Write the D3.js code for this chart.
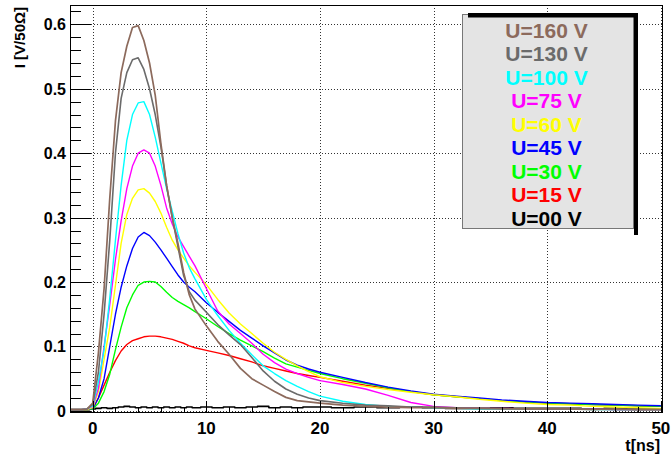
<!DOCTYPE html>
<html>
<head>
<meta charset="utf-8">
<script src="https://cdn.jsdelivr.net/npm/d3@7"></script>
<style>
  html, body { margin: 0; padding: 0; background: #fff; }
  svg text { font-family: "Liberation Sans", Arial, Helvetica, sans-serif; font-weight: bold; }
</style>
</head>
<body>
<svg id="chart" width="671" height="456"></svg>
<script>
// Sample times in ns
const times = [-2, -1, -0.5, 0, 0.5, 1, 1.5, 2, 2.5, 3, 3.5, 4, 4.5, 5, 5.5, 6, 6.5, 7, 7.5, 8, 8.5, 9,
  10, 11, 12, 13, 14, 15, 16, 17, 18, 19, 20, 22, 24, 26, 28, 30, 32, 34, 36, 38, 40, 42, 44, 46, 48, 50];

// Current pulses in V/50Ohm, one array per bias voltage
const u000 = [0.002, 0.002, 0.002, 0.003, 0.004, 0.005, 0.004, 0.005, 0.006, 0.007, 0.006, 0.005, 0.006, 0.005, 0.006, 0.005, 0.006, 0.005, 0.006, 0.005, 0.006, 0.005,
  0.006, 0.005, 0.006, 0.005, 0.006, 0.007, 0.005, 0.006, 0.005, 0.006, 0.006, 0.005, 0.006, 0.005, 0.006, 0.005, 0.004, 0.004, 0.005, 0.004, 0.004, 0.004, 0.003, 0.004, 0.003, 0.003];
const u015 = [0.002, 0.002, 0.002, 0.003, 0.02, 0.04, 0.06, 0.078, 0.093, 0.103, 0.109, 0.112, 0.115, 0.116, 0.116, 0.115, 0.113, 0.111, 0.108, 0.105, 0.101, 0.098,
  0.094, 0.09, 0.086, 0.081, 0.076, 0.07, 0.066, 0.062, 0.058, 0.055, 0.052, 0.046, 0.04, 0.035, 0.03, 0.025, 0.022, 0.019, 0.016, 0.014, 0.012, 0.011, 0.01, 0.009, 0.008, 0.007];
const u030 = [0.002, 0.002, 0.002, 0.003, 0.012, 0.03, 0.057, 0.095, 0.13, 0.16, 0.18, 0.195, 0.2, 0.201, 0.2, 0.193, 0.184, 0.176, 0.17, 0.165, 0.16, 0.154,
  0.143, 0.131, 0.12, 0.11, 0.101, 0.092, 0.082, 0.073, 0.068, 0.063, 0.058, 0.05, 0.043, 0.036, 0.03, 0.025, 0.022, 0.019, 0.016, 0.014, 0.012, 0.011, 0.01, 0.009, 0.008, 0.007];
const u045 = [0.002, 0.002, 0.002, 0.004, 0.02, 0.05, 0.1, 0.15, 0.192, 0.225, 0.252, 0.27, 0.277, 0.272, 0.262, 0.25, 0.237, 0.224, 0.211, 0.2, 0.192, 0.185,
  0.168, 0.153, 0.139, 0.125, 0.113, 0.101, 0.09, 0.079, 0.071, 0.065, 0.06, 0.052, 0.044, 0.037, 0.031, 0.026, 0.023, 0.02, 0.017, 0.015, 0.013, 0.012, 0.011, 0.01, 0.009, 0.008];
const u060 = [0.002, 0.002, 0.002, 0.005, 0.03, 0.08, 0.13, 0.195, 0.26, 0.305, 0.33, 0.343, 0.345, 0.338, 0.325, 0.307, 0.285, 0.265, 0.25, 0.237, 0.225, 0.215,
  0.196, 0.173, 0.152, 0.135, 0.12, 0.105, 0.091, 0.08, 0.07, 0.061, 0.053, 0.044, 0.038, 0.033, 0.029, 0.025, 0.022, 0.018, 0.015, 0.012, 0.01, 0.009, 0.007, 0.006, 0.005, 0.004];
const u075 = [0.002, 0.002, 0.003, 0.007, 0.035, 0.1, 0.165, 0.235, 0.295, 0.345, 0.38, 0.4, 0.405, 0.4, 0.38, 0.35, 0.315, 0.29, 0.27, 0.255, 0.24, 0.225,
  0.19, 0.155, 0.135, 0.12, 0.105, 0.088, 0.075, 0.065, 0.058, 0.052, 0.047, 0.041, 0.034, 0.024, 0.013, 0.007, 0.005, 0.004, 0.004, 0.003, 0.003, 0.003, 0.003, 0.002, 0.002, 0.002];
const u100 = [0.002, 0.002, 0.003, 0.008, 0.045, 0.095, 0.175, 0.265, 0.35, 0.42, 0.46, 0.478, 0.48, 0.46, 0.425, 0.385, 0.345, 0.31, 0.275, 0.245, 0.222, 0.205,
  0.173, 0.148, 0.125, 0.105, 0.087, 0.07, 0.058, 0.047, 0.038, 0.03, 0.023, 0.015, 0.01, 0.007, 0.006, 0.005, 0.004, 0.003, 0.003, 0.003, 0.003, 0.003, 0.002, 0.002, 0.002, 0.002];
const u130 = [0.002, 0.002, 0.003, 0.01, 0.06, 0.15, 0.265, 0.4, 0.485, 0.525, 0.545, 0.548, 0.53, 0.5, 0.46, 0.41, 0.35, 0.3, 0.255, 0.21, 0.185, 0.172,
  0.153, 0.134, 0.118, 0.103, 0.083, 0.062, 0.046, 0.034, 0.026, 0.02, 0.016, 0.012, 0.009, 0.008, 0.006, 0.006, 0.005, 0.004, 0.004, 0.003, 0.003, 0.003, 0.003, 0.002, 0.002, 0.002];
const u160 = [0.002, 0.002, 0.003, 0.012, 0.09, 0.19, 0.33, 0.45, 0.525, 0.566, 0.595, 0.598, 0.575, 0.54, 0.49, 0.415, 0.35, 0.3, 0.26, 0.215, 0.18, 0.158,
  0.132, 0.108, 0.088, 0.066, 0.05, 0.04, 0.03, 0.021, 0.016, 0.014, 0.012, 0.009, 0.007, 0.006, 0.005, 0.005, 0.004, 0.004, 0.003, 0.003, 0.003, 0.003, 0.002, 0.003, 0.002, 0.002];

// Legend entries, top to bottom
const legendLabels = ["U=160 V", "U=130 V", "U=100 V", "U=75 V", "U=60 V", "U=45 V", "U=30 V", "U=15 V", "U=00 V"];
const legendColors = ["#8c6a5c", "#6b6b6b", "#00ffff", "#ff00ff", "#ffff00", "#0000ff", "#00ff00", "#ff0000", "#000000"];

// Axis ticks
const xTicks = [0, 10, 20, 30, 40, 50];
const yTicks = [0, 0.1, 0.2, 0.3, 0.4, 0.5, 0.6];

const series = [
  { values: u000, color: "#000000", width: 1.6, curve: d3.curveStep },
  { values: u015, color: "#ff0000", width: 1.4, curve: d3.curveLinear },
  { values: u030, color: "#00ff00", width: 1.4, curve: d3.curveLinear },
  { values: u045, color: "#0000ff", width: 1.4, curve: d3.curveLinear },
  { values: u060, color: "#ffff00", width: 1.4, curve: d3.curveLinear },
  { values: u075, color: "#ff00ff", width: 1.4, curve: d3.curveLinear },
  { values: u100, color: "#00ffff", width: 1.4, curve: d3.curveLinear },
  { values: u130, color: "#6b6b6b", width: 1.6, curve: d3.curveLinear },
  { values: u160, color: "#8c6a5c", width: 1.7, curve: d3.curveLinear }
];

const svg = d3.select("#chart");
const frame = { left: 70, right: 662, top: 5, bottom: 412 };

const x = d3.scaleLinear().domain([-2, 50.1]).range([frame.left, frame.right]);
const y = d3.scaleLinear().domain([-0.0017, 0.63]).range([frame.bottom, frame.top]);

svg.append("rect").attr("width", 671).attr("height", 456).attr("fill", "#fff");

// Dotted grid at the major ticks
const grid = svg.append("g").attr("stroke", "#333").attr("stroke-width", 1)
  .attr("stroke-dasharray", "1,2").attr("shape-rendering", "crispEdges");
grid.selectAll("line.gx").data(xTicks).join("line")
  .attr("x1", d => Math.round(x(d)) + 0.5).attr("x2", d => Math.round(x(d)) + 0.5)
  .attr("y1", frame.top).attr("y2", frame.bottom);
grid.selectAll("line.gy").data(yTicks).join("line")
  .attr("x1", frame.left).attr("x2", frame.right)
  .attr("y1", d => Math.round(y(d)) + 0.5).attr("y2", d => Math.round(y(d)) + 0.5);

// Pulse curves
const plot = svg.append("g");
series.forEach(s => {
  const line = d3.line().curve(s.curve).x((d, i) => x(times[i])).y(d => y(d));
  plot.append("path").datum(s.values)
    .attr("fill", "none").attr("stroke", s.color).attr("stroke-width", s.width)
    .attr("stroke-linejoin", "round").attr("d", line);
});

// Frame
svg.append("rect")
  .attr("x", frame.left + 0.5).attr("y", frame.top + 0.5)
  .attr("width", frame.right - frame.left).attr("height", frame.bottom - frame.top)
  .attr("fill", "none").attr("stroke", "#000").attr("stroke-width", 1)
  .attr("shape-rendering", "crispEdges");

// Bottom axis ticks drawn inward
const xAxis = d3.axisTop(x).tickValues(xTicks).tickSize(12).tickFormat("");
const xMinor = d3.axisTop(x).tickValues(d3.range(-2, 50.1, 2).filter(v => v % 10 !== 0)).tickSize(6).tickFormat("");
[xAxis, xMinor].forEach(ax => {
  const g = svg.append("g").attr("transform", `translate(0,${frame.bottom + 0.5})`).call(ax);
  g.select(".domain").remove();
  g.selectAll("line").attr("stroke", "#000").attr("shape-rendering", "crispEdges");
});

// Left axis ticks drawn inward
const yAxis = d3.axisRight(y).tickValues(yTicks).tickSize(20).tickFormat("");
const yMinor = d3.axisRight(y).tickValues(d3.range(0, 0.63, 0.02).filter(v => Math.abs(v * 10 - Math.round(v * 10)) > 1e-6)).tickSize(10).tickFormat("");
[yAxis, yMinor].forEach(ax => {
  const g = svg.append("g").attr("transform", `translate(${frame.left + 0.5},0)`).call(ax);
  g.select(".domain").remove();
  g.selectAll("line").attr("stroke", "#000").attr("shape-rendering", "crispEdges");
});

// Tick labels
svg.append("g").selectAll("text").data(xTicks).join("text")
  .attr("x", d => x(d)).attr("y", 434).attr("text-anchor", "middle")
  .attr("font-size", 17).attr("fill", "#000").text(d => d);
svg.append("g").selectAll("text").data(yTicks).join("text")
  .attr("x", 66).attr("y", d => y(d) + 6).attr("text-anchor", "end")
  .attr("font-size", 16).attr("fill", "#000").text(d => d === 0 ? "0" : d.toFixed(1));

// Axis titles
svg.append("text").attr("x", 660).attr("y", 451).attr("text-anchor", "end")
  .attr("font-size", 16).attr("fill", "#000").text("t[ns]");
svg.append("text").attr("transform", "translate(25,7) rotate(-90)").attr("text-anchor", "end")
  .attr("font-size", 15).attr("fill", "#000").text("I [V/50\u03A9]");

// Legend box with shadow bars
const lg = { x0: 462, x1: 633, y0: 14, y1: 228 };
svg.append("rect").attr("x", lg.x0 + 0.5).attr("y", lg.y0 + 0.5)
  .attr("width", lg.x1 - lg.x0).attr("height", lg.y1 - lg.y0)
  .attr("fill", "#e4e4e4").attr("stroke", "#777").attr("stroke-width", 1).attr("shape-rendering", "crispEdges");
svg.append("rect").attr("x", lg.x0 + 6).attr("y", lg.y0 - 1).attr("width", lg.x1 + 2 - lg.x0 - 6).attr("height", 4.5).attr("fill", "#000");
svg.append("rect").attr("x", lg.x1 + 1).attr("y", lg.y0 - 1).attr("width", 4).attr("height", lg.y1 + 7 - lg.y0 + 1).attr("fill", "#000");

const rowY = d3.scalePoint().domain(legendLabels).range([30, 218]);
svg.append("g").selectAll("text").data(legendLabels).join("text")
  .attr("x", (lg.x0 + lg.x1) / 2 - 1).attr("y", d => rowY(d) + 7.5)
  .attr("text-anchor", "middle").attr("font-size", 21)
  .attr("fill", (d, i) => legendColors[i]).text(d => d);
</script>
</body>
</html>
